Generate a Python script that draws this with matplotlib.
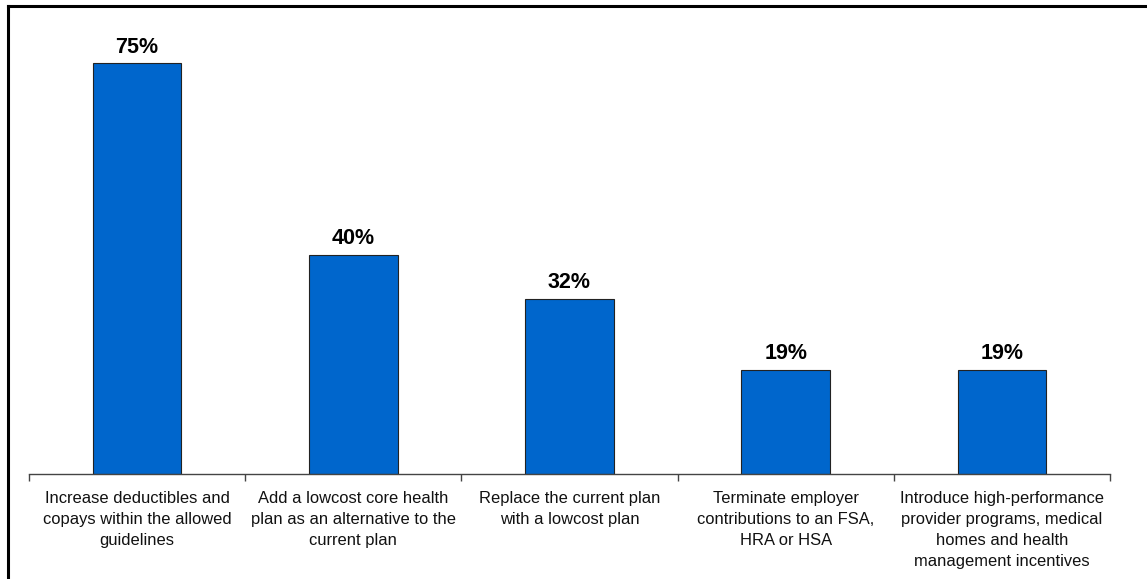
import matplotlib.pyplot as plt
from matplotlib.lines import Line2D
import numpy as np

plt.rcParams["font.family"] = ["Liberation Sans", "DejaVu Sans"]

categories = [
    "Increase deductibles and\ncopays within the allowed\nguidelines",
    "Add a lowcost core health\nplan as an alternative to the\ncurrent plan",
    "Replace the current plan\nwith a lowcost plan",
    "Terminate employer\ncontributions to an FSA,\nHRA or HSA",
    "Introduce high-performance\nprovider programs, medical\nhomes and health\nmanagement incentives",
]
values = [75, 40, 32, 19, 19]

fig = plt.figure(figsize=(11.47, 5.79), dpi=100)
ax = fig.add_axes([0.0253, 0.1813, 0.9424, 0.7565])

x = np.arange(len(values))
bars = ax.bar(x, values, width=0.41, color="#0066CC", edgecolor="#222222", linewidth=0.8)

for bar, v in zip(bars, values):
    ax.annotate(f"{v}%", (bar.get_x() + bar.get_width() / 2, v),
                xytext=(0, 4), textcoords="offset points",
                ha="center", va="bottom", fontsize=15.5, fontweight="bold")

ax.set_xlim(-0.5, len(values) - 0.5)
ax.set_ylim(0, 80)
ax.set_yticks([])
for side in ["top", "right", "left"]:
    ax.spines[side].set_visible(False)
ax.spines["bottom"].set_color("#444444")
ax.spines["bottom"].set_linewidth(1.0)

ax.set_xticks(x)
ax.set_xticklabels(categories, fontsize=11.9, linespacing=1.5, color="#111111")
ax.tick_params(axis="x", which="major", length=0, pad=12)
ax.set_xticks(np.arange(len(values) + 1) - 0.5, minor=True)
ax.tick_params(axis="x", which="minor", length=5, color="#444444", width=1.0)

# outer chart frame (only left and top edges visible in the source)
fig.add_artist(Line2D([0.0070, 0.0070], [0.0, 0.9905], transform=fig.transFigure,
                      color="black", linewidth=2.2))
fig.add_artist(Line2D([0.0070, 1.0], [0.9905, 0.9905], transform=fig.transFigure,
                      color="black", linewidth=2.2))

fig.savefig("out.png", dpi=100)
